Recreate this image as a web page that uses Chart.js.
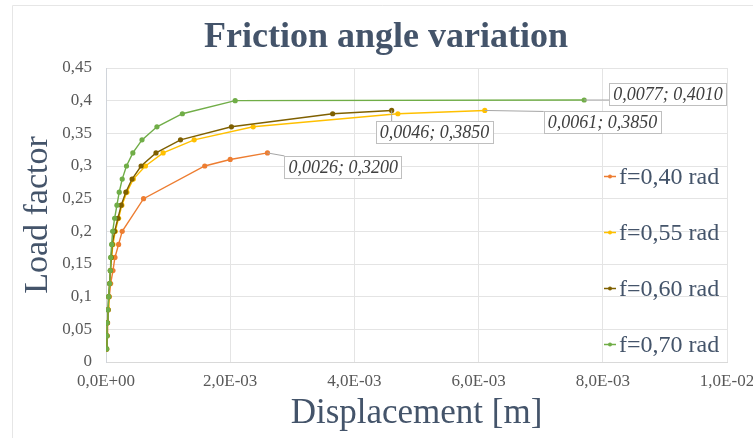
<!DOCTYPE html>
<html>
<head>
<meta charset="utf-8">
<script src="https://cdn.jsdelivr.net/npm/chart.js@4.4.1/dist/chart.umd.min.js"></script>
<style>
    body { margin: 0; background: #ffffff; }
    canvas { display: block; }
</style>
</head>
<body>
<canvas id="frictionChart" width="753" height="438"></canvas>
<script>
// chart text
const chartTitle = "Friction angle variation";
const xTitle = "Displacement [m]";
const yTitle = "Load factor";
const seriesNames = ["f=0,40 rad", "f=0,55 rad", "f=0,60 rad", "f=0,70 rad"];
const seriesColors = ["#ED7D31", "#FFC000", "#7F6000", "#70AD47"];

// f = 0.40 rad
const dispF040 = [0.000010, 0.000018, 0.000026, 0.000038, 0.000053, 0.000075, 0.000112, 0.000144, 0.000203, 0.000261, 0.000605, 0.00159, 0.00200, 0.0026];
const loadF040 = [0.02, 0.04, 0.06, 0.08, 0.10, 0.12, 0.14, 0.16, 0.18, 0.20, 0.25, 0.30, 0.31, 0.32];

// f = 0.55 rad
const dispF055 = [0.000010, 0.000016, 0.000022, 0.000033, 0.000045, 0.000060, 0.000073, 0.000090, 0.000112, 0.000149, 0.000203, 0.000256, 0.000336, 0.000440, 0.000635, 0.000920, 0.00142, 0.00237, 0.00470, 0.0061];
const loadF055 = [0.02, 0.04, 0.06, 0.08, 0.10, 0.12, 0.14, 0.16, 0.18, 0.20, 0.22, 0.24, 0.26, 0.28, 0.30, 0.32, 0.34, 0.36, 0.38, 0.385];

// f = 0.60 rad
const dispF060 = [0.000010, 0.000016, 0.000022, 0.000032, 0.000043, 0.000058, 0.000070, 0.000085, 0.000100, 0.000139, 0.000192, 0.000245, 0.000320, 0.000420, 0.000565, 0.000805, 0.00120, 0.00202, 0.00365, 0.0046];
const loadF060 = [0.02, 0.04, 0.06, 0.08, 0.10, 0.12, 0.14, 0.16, 0.18, 0.20, 0.22, 0.24, 0.26, 0.28, 0.30, 0.32, 0.34, 0.36, 0.38, 0.385];

// f = 0.70 rad
const dispF070 = [0.000011, 0.000016, 0.000021, 0.000032, 0.000043, 0.000059, 0.000069, 0.000075, 0.000091, 0.000107, 0.000139, 0.000176, 0.000213, 0.000261, 0.000330, 0.000432, 0.000580, 0.000820, 0.00123, 0.00208, 0.0077];
const loadF070 = [0.02, 0.04, 0.06, 0.08, 0.10, 0.12, 0.14, 0.16, 0.18, 0.20, 0.22, 0.24, 0.26, 0.28, 0.30, 0.32, 0.34, 0.36, 0.38, 0.40, 0.401];

// axis ranges
const xMin = 0, xMax = 0.01, xStep = 0.002;
const yMin = 0, yMax = 0.45, yStep = 0.05;

const serif = "'Liberation Serif', 'DejaVu Serif', serif";

const toPoints = (xs, ys) => xs.map((x, i) => ({ x: x, y: ys[i] }));

const sciLabel = (value) => {
    // 0.002 -> "2,0E-03"
    const parts = Number(value).toExponential(1).split("e");
    const sign = parts[1][0];
    const digits = parts[1].slice(1).padStart(2, "0");
    return parts[0].replace(".", ",") + "E" + sign + digits;
};

const decLabel = (value) => String(Number(value.toFixed(2))).replace(".", ",");

const allSeries = [
    toPoints(dispF040, loadF040),
    toPoints(dispF055, loadF055),
    toPoints(dispF060, loadF060),
    toPoints(dispF070, loadF070),
];

// where the value boxes sit relative to the last point of each series
const labelOffsets = [
    { dx: 17, dy: 3 },
    { dx: 59, dy: 1 },
    { dx: -16, dy: 11 },
    { dx: 25, dy: -17 },
];

const frameAndTitle = {
    id: "frameAndTitle",
    beforeDraw(chart) {
        const ctx = chart.ctx;
        ctx.save();
        ctx.fillStyle = "#ffffff";
        ctx.fillRect(0, 0, chart.width, chart.height);
        ctx.strokeStyle = "#e6e6e6";
        ctx.lineWidth = 1;
        ctx.beginPath();
        ctx.moveTo(12.5, chart.height);
        ctx.lineTo(12.5, 5.5);
        ctx.lineTo(chart.width, 5.5);
        ctx.stroke();

        ctx.fillStyle = "#44546A";
        ctx.font = "bold 36px " + serif;
        ctx.textAlign = "center";
        ctx.textBaseline = "alphabetic";
        ctx.fillText(chartTitle, 386, 47);
        ctx.restore();
    },
};

const valueLabels = {
    id: "valueLabels",
    afterDatasetsDraw(chart) {
        const ctx = chart.ctx;
        ctx.save();
        ctx.font = "italic 18px " + serif;
        chart.data.datasets.forEach((ds, i) => {
            const meta = chart.getDatasetMeta(i);
            const last = ds.data[ds.data.length - 1];
            const el = meta.data[meta.data.length - 1];
            const text = last.x.toFixed(4).replace(".", ",") + "; " + last.y.toFixed(4).replace(".", ",");
            const w = ctx.measureText(text).width + 8;
            const h = 22;
            const bx = el.x + labelOffsets[i].dx;
            const by = el.y + labelOffsets[i].dy;
            // leader line to the nearest point of the box
            const lx = Math.min(Math.max(el.x, bx), bx + w);
            const ly = Math.min(Math.max(el.y, by), by + h);
            ctx.strokeStyle = "#a6a6a6";
            ctx.lineWidth = 1;
            ctx.beginPath();
            ctx.moveTo(el.x, el.y);
            ctx.lineTo(lx, ly);
            ctx.stroke();

            ctx.fillStyle = "#ffffff";
            ctx.fillRect(bx, by, w, h);
            ctx.strokeStyle = "#bfbfbf";
            ctx.strokeRect(Math.round(bx) + 0.5, Math.round(by) + 0.5, Math.round(w), h);
            ctx.fillStyle = "#404040";
            ctx.textAlign = "left";
            ctx.textBaseline = "middle";
            ctx.fillText(text, bx + 4, by + h / 2 + 1);
        });
        ctx.restore();
    },
};

const sideLegend = {
    id: "sideLegend",
    afterDraw(chart) {
        const ctx = chart.ctx;
        const x0 = 604;
        const top = 176.5;
        const gap = 56;
        ctx.save();
        ctx.font = "24px " + serif;
        ctx.textAlign = "left";
        ctx.textBaseline = "middle";
        chart.data.datasets.forEach((ds, i) => {
            const y = top + i * gap;
            ctx.strokeStyle = ds.borderColor;
            ctx.lineWidth = 1.5;
            ctx.beginPath();
            ctx.moveTo(x0, y);
            ctx.lineTo(x0 + 12, y);
            ctx.stroke();
            ctx.fillStyle = ds.borderColor;
            ctx.beginPath();
            ctx.arc(x0 + 6, y, 2, 0, Math.PI * 2);
            ctx.fill();
            ctx.fillStyle = "#44546A";
            ctx.fillText(ds.label, x0 + 15, y + 1);
        });
        ctx.restore();
    },
};

const datasets = allSeries.map((points, i) => ({
    label: seriesNames[i],
    data: points,
    showLine: true,
    borderColor: seriesColors[i],
    backgroundColor: seriesColors[i],
    borderWidth: 1.4,
    pointRadius: 2.6,
    pointBorderWidth: 0,
    order: allSeries.length - 1 - i,
}));

new Chart(document.getElementById("frictionChart"), {
    type: "scatter",
    data: { datasets: datasets },
    options: {
        responsive: false,
        animation: false,
        devicePixelRatio: 1,
        layout: { padding: { top: 68, right: 26, left: 0, bottom: 0 } },
        plugins: {
            legend: { display: false },
            title: { display: false },
            tooltip: { enabled: false },
        },
        scales: {
            x: {
                type: "linear",
                min: xMin,
                max: xMax,
                ticks: {
                    stepSize: xStep,
                    callback: sciLabel,
                    font: { family: serif, size: 17 },
                    color: "#595959",
                    padding: 9,
                    maxRotation: 0,
                },
                grid: { color: "#e4e4e4", drawTicks: false },
                border: { color: "#d9d9d9" },
                title: {
                    display: true,
                    text: xTitle,
                    font: { family: serif, size: 35 },
                    color: "#44546A",
                    padding: { top: 0, bottom: 3 },
                },
                afterFit(scale) {
                    scale.height = 76;
                    scale.paddingLeft = 0;
                    scale.paddingRight = 0;
                },
            },
            y: {
                type: "linear",
                min: yMin,
                max: yMax,
                ticks: {
                    stepSize: yStep,
                    callback: decLabel,
                    font: { family: serif, size: 17 },
                    color: "#595959",
                    padding: 14,
                },
                grid: { color: "#e4e4e4", drawTicks: false },
                border: { color: "#d0d4da" },
                title: {
                    display: true,
                    text: yTitle,
                    font: { family: serif, size: 34 },
                    color: "#44546A",
                    padding: { top: 18, bottom: 0 },
                },
                afterFit(scale) {
                    scale.width = 106;
                    scale.paddingTop = 0;
                    scale.paddingBottom = 0;
                },
            },
        },
    },
    plugins: [frameAndTitle, valueLabels, sideLegend],
});
</script>
</body>
</html>
